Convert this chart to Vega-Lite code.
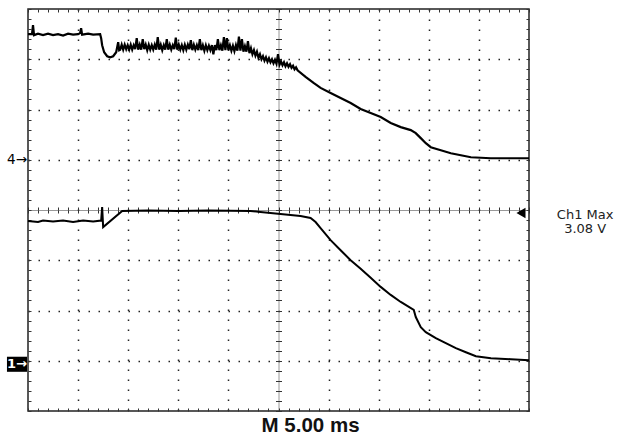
{
  "$schema": "https://vega.github.io/schema/vega-lite/v6.json",
  "width": 501,
  "height": 402,
  "autosize": "none",
  "padding": {"left": 28, "top": 9, "right": 95, "bottom": 24},
  "background": "white",
  "config": {"view": {"stroke": "#222", "strokeWidth": 1.5}, "font": "Liberation Sans"},
  "datasets": {
    "ch4": [
      {"t": 0, "v": 7.5}, {"t": 0.4, "v": 7.5}, {"t": 0.5, "v": 7.68}, {"t": 0.6, "v": 7.48}, {"t": 1.0, "v": 7.51}, {"t": 1.5, "v": 7.48},
      {"t": 2.0, "v": 7.51}, {"t": 2.5, "v": 7.48}, {"t": 3.0, "v": 7.5}, {"t": 3.5, "v": 7.47}, {"t": 4.0, "v": 7.51}, {"t": 4.5, "v": 7.49},
      {"t": 5.0, "v": 7.5}, {"t": 5.2, "v": 7.52}, {"t": 5.3, "v": 7.62}, {"t": 5.4, "v": 7.49}, {"t": 6.0, "v": 7.51}, {"t": 6.5, "v": 7.49},
      {"t": 7.2, "v": 7.5}, {"t": 7.3, "v": 7.42}, {"t": 7.4, "v": 7.28}, {"t": 7.6, "v": 7.14}, {"t": 7.9, "v": 7.06}, {"t": 8.2, "v": 7.04},
      {"t": 8.5, "v": 7.06}, {"t": 8.8, "v": 7.14}, {"t": 9.0, "v": 7.34}, {"t": 9.1, "v": 7.18},
      {"t": 9.20, "v": 7.19}, {"t": 9.35, "v": 7.29}, {"t": 9.50, "v": 7.19}, {"t": 9.65, "v": 7.29}, {"t": 9.80, "v": 7.2}, {"t": 9.95, "v": 7.28},
      {"t": 10.10, "v": 7.19}, {"t": 10.25, "v": 7.29}, {"t": 10.40, "v": 7.19}, {"t": 10.55, "v": 7.28}, {"t": 10.70, "v": 7.2}, {"t": 10.85, "v": 7.42},
      {"t": 11.00, "v": 7.19}, {"t": 11.15, "v": 7.29}, {"t": 11.30, "v": 7.19}, {"t": 11.45, "v": 7.4}, {"t": 11.60, "v": 7.2}, {"t": 11.75, "v": 7.29},
      {"t": 11.90, "v": 7.18}, {"t": 12.05, "v": 7.29}, {"t": 12.20, "v": 7.19}, {"t": 12.35, "v": 7.28}, {"t": 12.50, "v": 7.19}, {"t": 12.65, "v": 7.29},
      {"t": 12.80, "v": 7.19}, {"t": 12.95, "v": 7.44}, {"t": 13.10, "v": 7.19}, {"t": 13.25, "v": 7.29}, {"t": 13.40, "v": 7.18}, {"t": 13.55, "v": 7.28},
      {"t": 13.70, "v": 7.19}, {"t": 13.85, "v": 7.4}, {"t": 14.00, "v": 7.19}, {"t": 14.15, "v": 7.29}, {"t": 14.30, "v": 7.19}, {"t": 14.45, "v": 7.28},
      {"t": 14.60, "v": 7.2}, {"t": 14.75, "v": 7.43}, {"t": 14.90, "v": 7.19}, {"t": 15.05, "v": 7.29}, {"t": 15.20, "v": 7.19}, {"t": 15.35, "v": 7.28},
      {"t": 15.50, "v": 7.18}, {"t": 15.65, "v": 7.29}, {"t": 15.80, "v": 7.19}, {"t": 15.95, "v": 7.29}, {"t": 16.10, "v": 7.2}, {"t": 16.25, "v": 7.38},
      {"t": 16.40, "v": 7.18}, {"t": 16.55, "v": 7.29}, {"t": 16.70, "v": 7.19}, {"t": 16.85, "v": 7.28}, {"t": 17.00, "v": 7.18}, {"t": 17.15, "v": 7.4},
      {"t": 17.30, "v": 7.18}, {"t": 17.45, "v": 7.28}, {"t": 17.60, "v": 7.17}, {"t": 17.75, "v": 7.28}, {"t": 17.90, "v": 7.18}, {"t": 18.05, "v": 7.27},
      {"t": 18.20, "v": 7.18}, {"t": 18.35, "v": 7.28}, {"t": 18.50, "v": 7.1}, {"t": 18.65, "v": 7.28}, {"t": 18.80, "v": 7.18}, {"t": 18.95, "v": 7.4},
      {"t": 19.10, "v": 7.18}, {"t": 19.25, "v": 7.28}, {"t": 19.40, "v": 7.17}, {"t": 19.55, "v": 7.44}, {"t": 19.70, "v": 7.18}, {"t": 19.85, "v": 7.42},
      {"t": 20.00, "v": 7.18}, {"t": 20.15, "v": 7.28}, {"t": 20.30, "v": 7.17}, {"t": 20.45, "v": 7.27}, {"t": 20.60, "v": 7.16}, {"t": 20.75, "v": 7.28},
      {"t": 20.90, "v": 7.17}, {"t": 21.05, "v": 7.45}, {"t": 21.20, "v": 7.17}, {"t": 21.35, "v": 7.4}, {"t": 21.50, "v": 7.15}, {"t": 21.65, "v": 7.26},
      {"t": 21.80, "v": 7.15}, {"t": 21.95, "v": 7.36}, {"t": 22.10, "v": 7.12}, {"t": 22.25, "v": 7.22}, {"t": 22.40, "v": 7.1}, {"t": 22.55, "v": 7.18},
      {"t": 22.70, "v": 7.07}, {"t": 22.85, "v": 7.15}, {"t": 23.00, "v": 7.03}, {"t": 23.15, "v": 7.1}, {"t": 23.30, "v": 7.0}, {"t": 23.45, "v": 7.06},
      {"t": 23.60, "v": 6.97}, {"t": 23.75, "v": 7.04}, {"t": 23.90, "v": 6.95}, {"t": 24.05, "v": 7.02}, {"t": 24.20, "v": 6.94}, {"t": 24.35, "v": 7.0},
      {"t": 24.50, "v": 6.92}, {"t": 24.65, "v": 6.99}, {"t": 24.80, "v": 6.91}, {"t": 24.95, "v": 7.1}, {"t": 25.10, "v": 6.89}, {"t": 25.25, "v": 6.96},
      {"t": 25.40, "v": 6.88}, {"t": 25.55, "v": 6.94}, {"t": 25.70, "v": 6.86}, {"t": 25.85, "v": 6.92}, {"t": 26.00, "v": 6.85}, {"t": 26.15, "v": 6.9},
      {"t": 26.30, "v": 6.83}, {"t": 26.45, "v": 6.87}, {"t": 26.60, "v": 6.8}, {"t": 26.75, "v": 6.84}, {"t": 26.90, "v": 6.78},
      {"t": 27.7, "v": 6.65}, {"t": 28.5, "v": 6.53}, {"t": 29.2, "v": 6.43}, {"t": 30.2, "v": 6.33},
      {"t": 31.2, "v": 6.23}, {"t": 32.2, "v": 6.13}, {"t": 33.2, "v": 6.01}, {"t": 34.2, "v": 5.93},
      {"t": 35.2, "v": 5.85}, {"t": 36.2, "v": 5.73}, {"t": 37.2, "v": 5.65}, {"t": 38.2, "v": 5.59},
      {"t": 38.7, "v": 5.53}, {"t": 39.2, "v": 5.43}, {"t": 39.7, "v": 5.33}, {"t": 40.2, "v": 5.25},
      {"t": 41.2, "v": 5.19}, {"t": 42.2, "v": 5.13}, {"t": 43.2, "v": 5.09}, {"t": 44.2, "v": 5.05},
      {"t": 46.2, "v": 5.03}, {"t": 48.2, "v": 5.03}, {"t": 50.0, "v": 5.03}
    ],
    "ch1": [
      {"t": 0, "v": 3.78}, {"t": 1, "v": 3.76}, {"t": 1.5, "v": 3.79}, {"t": 2.5, "v": 3.77},
      {"t": 3.5, "v": 3.79}, {"t": 4.5, "v": 3.76}, {"t": 5.5, "v": 3.79}, {"t": 6.5, "v": 3.77},
      {"t": 7.3, "v": 3.79}, {"t": 7.4, "v": 4.06}, {"t": 7.5, "v": 3.66}, {"t": 9.4, "v": 3.98},
      {"t": 12, "v": 3.99}, {"t": 15, "v": 3.98}, {"t": 18, "v": 3.99}, {"t": 22.2, "v": 3.98},
      {"t": 23.2, "v": 3.96}, {"t": 25.2, "v": 3.92}, {"t": 27.2, "v": 3.88}, {"t": 28.2, "v": 3.84},
      {"t": 28.7, "v": 3.76}, {"t": 29.2, "v": 3.64}, {"t": 30.2, "v": 3.4}, {"t": 31.2, "v": 3.2},
      {"t": 32.2, "v": 3.0}, {"t": 33.2, "v": 2.83}, {"t": 34.2, "v": 2.65}, {"t": 35.2, "v": 2.47},
      {"t": 36.2, "v": 2.31}, {"t": 37.2, "v": 2.17}, {"t": 38.5, "v": 2.01}, {"t": 38.7, "v": 1.87},
      {"t": 39.2, "v": 1.67}, {"t": 39.7, "v": 1.57}, {"t": 40.7, "v": 1.45}, {"t": 41.7, "v": 1.35},
      {"t": 42.7, "v": 1.25}, {"t": 43.7, "v": 1.17}, {"t": 44.7, "v": 1.09}, {"t": 46.2, "v": 1.05},
      {"t": 48.2, "v": 1.03}, {"t": 50.0, "v": 1.01}
    ]
  },
  "resolve": {"axis": {"x": "independent", "y": "independent"}},
  "layer": [
    {
      "data": {"name": "ch4"},
      "mark": {"type": "line", "color": "#000", "strokeWidth": 2.2},
      "encoding": {
        "x": {"field": "t", "type": "quantitative", "scale": {"domain": [0, 50], "nice": false, "zero": false},
          "axis": {"orient": "bottom", "offset": -3, "title": null, "labels": false, "domain": false, "grid": false, "tickSize": 3, "tickColor": "#333", "tickWidth": 1,
            "values": [0,1,2,3,4,5,6,7,8,9,10,11,12,13,14,15,16,17,18,19,20,21,22,23,24,25,26,27,28,29,30,31,32,33,34,35,36,37,38,39,40,41,42,43,44,45,46,47,48,49,50]}},
        "y": {"field": "v", "type": "quantitative", "scale": {"domain": [0, 8], "nice": false, "zero": false},
          "axis": {"orient": "left", "offset": -3, "title": null, "labels": false, "domain": false, "grid": false, "tickSize": 3, "tickColor": "#333", "tickWidth": 1,
            "values": [0,0.2,0.4,0.6,0.8,1,1.2,1.4,1.6,1.8,2,2.2,2.4,2.6,2.8,3,3.2,3.4,3.6,3.8,4,4.2,4.4,4.6,4.8,5,5.2,5.4,5.6,5.8,6,6.2,6.4,6.6,6.8,7,7.2,7.4,7.6,7.8,8]}}
      }
    },
    {
      "data": {"name": "ch1"},
      "mark": {"type": "line", "color": "#000", "strokeWidth": 2},
      "encoding": {
        "x": {"field": "t", "type": "quantitative", "scale": {"domain": [0, 50], "nice": false, "zero": false},
          "axis": {"orient": "top", "offset": -3, "title": null, "labels": false, "domain": false, "grid": false, "tickSize": 3, "tickColor": "#333", "tickWidth": 1,
            "values": [0,1,2,3,4,5,6,7,8,9,10,11,12,13,14,15,16,17,18,19,20,21,22,23,24,25,26,27,28,29,30,31,32,33,34,35,36,37,38,39,40,41,42,43,44,45,46,47,48,49,50]}},
        "y": {"field": "v", "type": "quantitative", "scale": {"domain": [0, 8], "nice": false, "zero": false},
          "axis": {"orient": "right", "offset": -3, "title": null, "labels": false, "domain": false, "grid": false, "tickSize": 3, "tickColor": "#333", "tickWidth": 1,
            "values": [0,0.2,0.4,0.6,0.8,1,1.2,1.4,1.6,1.8,2,2.2,2.4,2.6,2.8,3,3.2,3.4,3.6,3.8,4,4.2,4.4,4.6,4.8,5,5.2,5.4,5.6,5.8,6,6.2,6.4,6.6,6.8,7,7.2,7.4,7.6,7.8,8]}}
      }
    },
    {
      "data": {"values": [{"label": "4→", "t": -0.1, "v": 5.0}]},
      "mark": {"type": "text", "align": "right", "baseline": "middle", "fontSize": 13.5, "color": "#000", "font": "DejaVu Sans"},
      "encoding": {
        "x": {"field": "t", "type": "quantitative", "scale": {"domain": [0, 50], "nice": false, "zero": false},
          "axis": {"orient": "bottom", "title": null, "labels": false, "domain": false, "ticks": false, "grid": true, "gridColor": "#222", "gridWidth": 1.5, "gridDash": [1.5, 8.5],
            "values": [5, 10, 15, 20, 30, 35, 40, 45]}},
        "y": {"field": "v", "type": "quantitative", "scale": {"domain": [0, 8], "nice": false, "zero": false},
          "axis": {"orient": "left", "title": null, "labels": false, "domain": false, "ticks": false, "grid": true, "gridColor": "#222", "gridWidth": 1.5, "gridDash": [1.5, 8.5],
            "values": [1, 2, 3, 5, 6, 7]}},
        "text": {"field": "label"}
      }
    },
    {
      "data": {"values": [
        {"label": "Ch1 Max", "t": 55.6, "v": 3.9},
        {"label": "3.08 V", "t": 55.6, "v": 3.63}
      ]},
      "mark": {"type": "text", "align": "center", "baseline": "middle", "fontSize": 13, "color": "#222", "font": "DejaVu Sans"},
      "encoding": {
        "x": {"field": "t", "type": "quantitative", "scale": {"domain": [0, 50], "nice": false, "zero": false},
          "axis": {"orient": "bottom", "offset": -201, "title": null, "labels": false, "grid": false, "domain": true, "domainDash": [1, 1], "domainColor": "#333", "domainWidth": 1, "tickSize": 3, "tickColor": "#333",
            "values": [0,1,2,3,4,5,6,7,8,9,10,11,12,13,14,15,16,17,18,19,20,21,22,23,24,25,26,27,28,29,30,31,32,33,34,35,36,37,38,39,40,41,42,43,44,45,46,47,48,49,50]}},
        "y": {"field": "v", "type": "quantitative", "scale": {"domain": [0, 8], "nice": false, "zero": false},
          "axis": {"orient": "left", "offset": -250.5, "title": null, "labels": false, "grid": false, "domain": true, "domainDash": [1, 1], "domainColor": "#333", "domainWidth": 1, "tickSize": 3, "tickColor": "#333",
            "values": [0,0.2,0.4,0.6,0.8,1,1.2,1.4,1.6,1.8,2,2.2,2.4,2.6,2.8,3,3.2,3.4,3.6,3.8,4,4.2,4.4,4.6,4.8,5,5.2,5.4,5.6,5.8,6,6.2,6.4,6.6,6.8,7,7.2,7.4,7.6,7.8,8]}},
        "text": {"field": "label"}
      }
    },
    {
      "data": {"values": [{"label": "M 5.00 ms", "t": 28.2, "v": -0.42}]},
      "mark": {"type": "text", "align": "center", "baseline": "alphabetic", "fontSize": 20.5, "fontWeight": "bold", "color": "#111", "font": "Liberation Sans"},
      "encoding": {
        "x": {"field": "t", "type": "quantitative", "scale": {"domain": [0, 50], "nice": false, "zero": false},
          "axis": {"orient": "top", "offset": -201, "title": null, "labels": false, "grid": false, "domain": false, "tickSize": 3, "tickColor": "#333",
            "values": [0,1,2,3,4,5,6,7,8,9,10,11,12,13,14,15,16,17,18,19,20,21,22,23,24,25,26,27,28,29,30,31,32,33,34,35,36,37,38,39,40,41,42,43,44,45,46,47,48,49,50]}},
        "y": {"field": "v", "type": "quantitative", "scale": {"domain": [0, 8], "nice": false, "zero": false},
          "axis": {"orient": "right", "offset": -250.5, "title": null, "labels": false, "grid": false, "domain": false, "tickSize": 3, "tickColor": "#333",
            "values": [0,0.2,0.4,0.6,0.8,1,1.2,1.4,1.6,1.8,2,2.2,2.4,2.6,2.8,3,3.2,3.4,3.6,3.8,4,4.2,4.4,4.6,4.8,5,5.2,5.4,5.6,5.8,6,6.2,6.4,6.6,6.8,7,7.2,7.4,7.6,7.8,8]}},
        "text": {"field": "label"}
      }
    },
    {
      "data": {"values": [{"t0": -2.1, "t1": -0.1, "v0": 0.78, "v1": 1.08}]},
      "mark": {"type": "rect", "color": "#000"},
      "encoding": {
        "x": {"field": "t0", "type": "quantitative", "scale": {"domain": [0, 50], "nice": false, "zero": false}, "axis": null},
        "x2": {"field": "t1"},
        "y": {"field": "v0", "type": "quantitative", "scale": {"domain": [0, 8], "nice": false, "zero": false}, "axis": null},
        "y2": {"field": "v1"}
      }
    },
    {
      "data": {"values": [{"label": "1→", "t": -1.1, "v": 0.93}]},
      "mark": {"type": "text", "align": "center", "baseline": "middle", "fontSize": 13, "fontWeight": "bold", "color": "#fff", "font": "DejaVu Sans"},
      "encoding": {
        "x": {"field": "t", "type": "quantitative", "scale": {"domain": [0, 50], "nice": false, "zero": false}, "axis": null},
        "y": {"field": "v", "type": "quantitative", "scale": {"domain": [0, 8], "nice": false, "zero": false}, "axis": null},
        "text": {"field": "label"}
      }
    },
    {
      "data": {"values": [{"t": 49.2, "v": 3.94}]},
      "mark": {"type": "point", "shape": "triangle-left", "filled": true, "color": "#000", "size": 110, "opacity": 1},
      "encoding": {
        "x": {"field": "t", "type": "quantitative", "scale": {"domain": [0, 50], "nice": false, "zero": false}, "axis": null},
        "y": {"field": "v", "type": "quantitative", "scale": {"domain": [0, 8], "nice": false, "zero": false}, "axis": null}
      }
    }
  ]
}
